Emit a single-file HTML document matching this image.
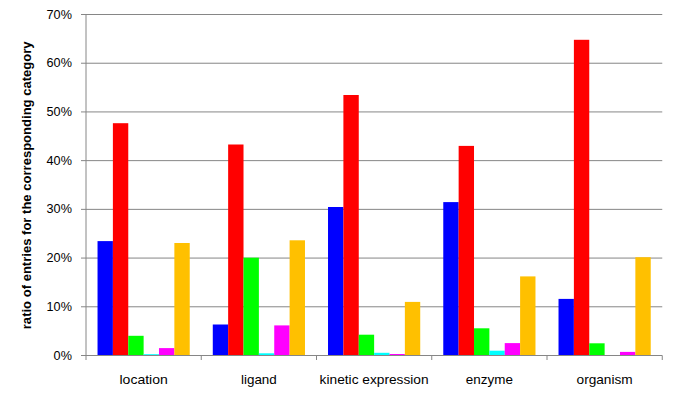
<!DOCTYPE html>
<html><head><meta charset="utf-8"><style>
html,body{margin:0;padding:0;background:#fff;overflow:hidden;width:685px;height:395px;}
svg{display:block;}
text{font-family:"Liberation Sans",sans-serif;fill:#000;}
.yl{font-size:13.2px;}
.xl{font-size:13.4px;}
.tt{font-size:13.06px;font-weight:bold;}
</style></head><body>
<svg width="685" height="395" viewBox="0 0 685 395">
<rect width="685" height="395" fill="#fff"/>
<line x1="81" y1="306.79" x2="662.25" y2="306.79" stroke="#868686" stroke-width="1"/>
<line x1="81" y1="258.07" x2="662.25" y2="258.07" stroke="#868686" stroke-width="1"/>
<line x1="81" y1="209.36" x2="662.25" y2="209.36" stroke="#868686" stroke-width="1"/>
<line x1="81" y1="160.64" x2="662.25" y2="160.64" stroke="#868686" stroke-width="1"/>
<line x1="81" y1="111.93" x2="662.25" y2="111.93" stroke="#868686" stroke-width="1"/>
<line x1="81" y1="63.22" x2="662.25" y2="63.22" stroke="#868686" stroke-width="1"/>
<line x1="81" y1="14.50" x2="662.25" y2="14.50" stroke="#868686" stroke-width="1"/>
<rect x="97.53" y="241.10" width="15.37" height="114.40" fill="#0000FF"/>
<rect x="112.89" y="123.20" width="15.37" height="232.30" fill="#FF0000"/>
<rect x="128.26" y="335.80" width="15.37" height="19.70" fill="#00FF00"/>
<rect x="143.62" y="354.20" width="15.37" height="1.30" fill="#00FFFF"/>
<rect x="158.99" y="348.10" width="15.37" height="7.40" fill="#FF00FF"/>
<rect x="174.36" y="243.00" width="15.37" height="112.50" fill="#FFC000"/>
<rect x="212.78" y="324.50" width="15.37" height="31.00" fill="#0000FF"/>
<rect x="228.14" y="144.50" width="15.37" height="211.00" fill="#FF0000"/>
<rect x="243.51" y="257.70" width="15.37" height="97.80" fill="#00FF00"/>
<rect x="258.88" y="353.30" width="15.37" height="2.20" fill="#00FFFF"/>
<rect x="274.24" y="325.40" width="15.37" height="30.10" fill="#FF00FF"/>
<rect x="289.61" y="240.30" width="15.37" height="115.20" fill="#FFC000"/>
<rect x="328.02" y="207.00" width="15.37" height="148.50" fill="#0000FF"/>
<rect x="343.39" y="95.00" width="15.37" height="260.50" fill="#FF0000"/>
<rect x="358.76" y="334.70" width="15.37" height="20.80" fill="#00FF00"/>
<rect x="374.12" y="352.80" width="15.37" height="2.70" fill="#00FFFF"/>
<rect x="389.49" y="354.00" width="15.37" height="1.50" fill="#FF00FF"/>
<rect x="404.86" y="301.90" width="15.37" height="53.60" fill="#FFC000"/>
<rect x="443.27" y="202.10" width="15.37" height="153.40" fill="#0000FF"/>
<rect x="458.64" y="145.90" width="15.37" height="209.60" fill="#FF0000"/>
<rect x="474.01" y="328.30" width="15.37" height="27.20" fill="#00FF00"/>
<rect x="489.38" y="350.70" width="15.37" height="4.80" fill="#00FFFF"/>
<rect x="504.74" y="343.10" width="15.37" height="12.40" fill="#FF00FF"/>
<rect x="520.11" y="276.40" width="15.37" height="79.10" fill="#FFC000"/>
<rect x="558.52" y="298.90" width="15.37" height="56.60" fill="#0000FF"/>
<rect x="573.89" y="39.80" width="15.37" height="315.70" fill="#FF0000"/>
<rect x="589.26" y="343.30" width="15.37" height="12.20" fill="#00FF00"/>
<rect x="604.62" y="355.30" width="15.37" height="0.20" fill="#00FFFF"/>
<rect x="619.99" y="351.90" width="15.37" height="3.60" fill="#FF00FF"/>
<rect x="635.36" y="257.20" width="15.37" height="98.30" fill="#FFC000"/>
<line x1="86.0" y1="14" x2="86.0" y2="355.50" stroke="#868686" stroke-width="1"/>
<line x1="81" y1="355.50" x2="662.25" y2="355.50" stroke="#868686" stroke-width="1"/>
<line x1="86.00" y1="355.50" x2="86.00" y2="360" stroke="#868686" stroke-width="1"/>
<line x1="201.25" y1="355.50" x2="201.25" y2="360" stroke="#868686" stroke-width="1"/>
<line x1="316.50" y1="355.50" x2="316.50" y2="360" stroke="#868686" stroke-width="1"/>
<line x1="431.75" y1="355.50" x2="431.75" y2="360" stroke="#868686" stroke-width="1"/>
<line x1="547.00" y1="355.50" x2="547.00" y2="360" stroke="#868686" stroke-width="1"/>
<line x1="662.25" y1="355.50" x2="662.25" y2="360" stroke="#868686" stroke-width="1"/>
<text transform="translate(71.9,359.50) scale(0.96,1)" text-anchor="end" class="yl">0%</text>
<text transform="translate(71.9,310.79) scale(0.96,1)" text-anchor="end" class="yl">10%</text>
<text transform="translate(71.9,262.07) scale(0.96,1)" text-anchor="end" class="yl">20%</text>
<text transform="translate(71.9,213.36) scale(0.96,1)" text-anchor="end" class="yl">30%</text>
<text transform="translate(71.9,164.64) scale(0.96,1)" text-anchor="end" class="yl">40%</text>
<text transform="translate(71.9,115.93) scale(0.96,1)" text-anchor="end" class="yl">50%</text>
<text transform="translate(71.9,67.22) scale(0.96,1)" text-anchor="end" class="yl">60%</text>
<text transform="translate(71.9,18.50) scale(0.96,1)" text-anchor="end" class="yl">70%</text>
<text transform="translate(143.62,383.7) scale(1.046,1)" text-anchor="middle" class="xl">location</text>
<text transform="translate(258.88,383.7) scale(1.002,1)" text-anchor="middle" class="xl">ligand</text>
<text transform="translate(374.12,383.7) scale(1.025,1)" text-anchor="middle" class="xl">kinetic expression</text>
<text transform="translate(489.38,383.7) scale(1.004,1)" text-anchor="middle" class="xl">enzyme</text>
<text transform="translate(604.62,383.7) scale(1.02,1)" text-anchor="middle" class="xl">organism</text>
<text transform="translate(31.1,185.3) rotate(-90)" text-anchor="middle" class="tt">ratio of entries for the corresponding category</text>
</svg>
</body></html>
